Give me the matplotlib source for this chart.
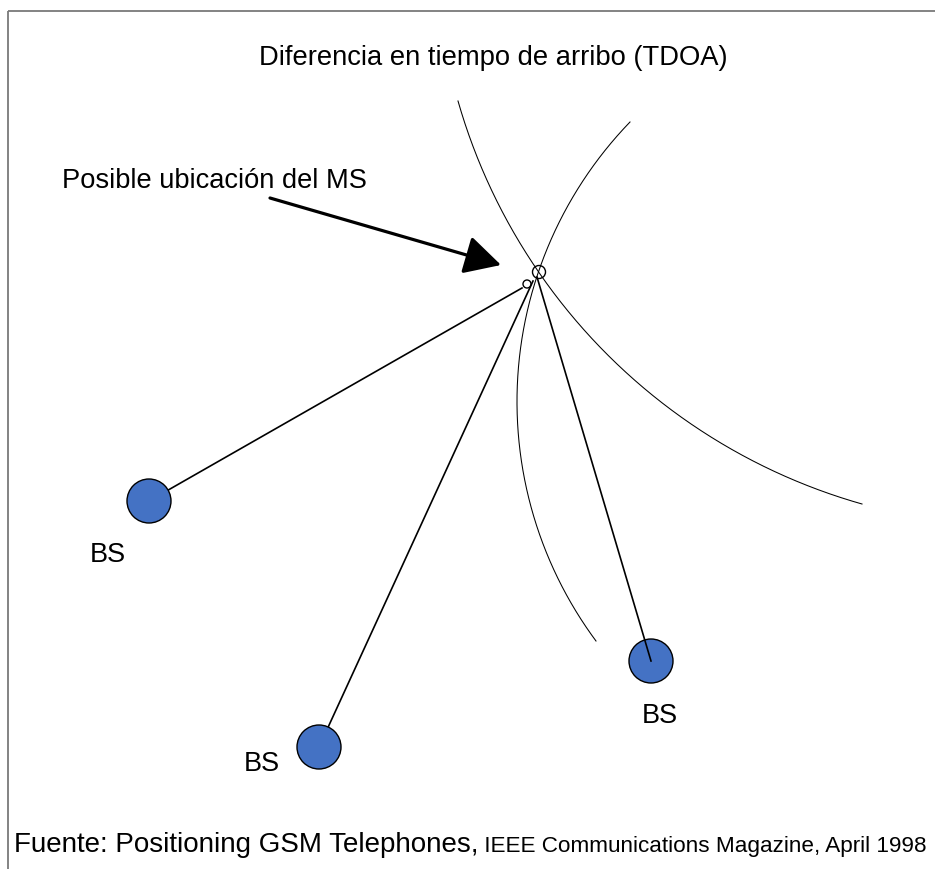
import numpy as np
import matplotlib
matplotlib.use("Agg")
import matplotlib.pyplot as plt
from matplotlib.patches import Circle, FancyArrowPatch

plt.rcParams['font.family'] = ['Liberation Sans', 'DejaVu Sans']

# ---- diagram data (pixel space of the original drawing) ----
title_text = "Diferencia en tiempo de arribo (TDOA)"
arrow_label = "Posible ubicación del MS"
source_main = "Fuente: Positioning GSM Telephones,"
source_small = " IEEE Communications Magazine, April 1998"

bs_x = [149, 319, 651]
bs_y = [502, 748, 662]
bs_labels = ["BS", "BS", "BS"]
bs_label_x = [108, 262, 660]
bs_label_y = [555, 764, 716]

ms_x = [539, 527]
ms_y = [273, 285]

# lines from each BS to the estimated location
line_end_x = [522, 533, 537]
line_end_y = [289, 282, 278]

# TDOA hyperbola-like curves: start, middle, end points
curve1_x = [458, 540, 862]
curve1_y = [102, 275, 505]
curve2_x = [630, 517, 596]
curve2_y = [123, 400, 642]

arrow_start = (270, 199)
arrow_end = (501, 266)


def circle_3pts(xs, ys):
    (x1, x2, x3), (y1, y2, y3) = xs, ys
    A = np.array([[x2 - x1, y2 - y1], [x3 - x2, y3 - y2]], float) * 2
    b = np.array([x2**2 - x1**2 + y2**2 - y1**2,
                  x3**2 - x2**2 + y3**2 - y2**2], float)
    cx, cy = np.linalg.solve(A, b)
    r = np.hypot(x1 - cx, y1 - cy)
    return cx, cy, r


def arc_points(xs, ys, n=300):
    cx, cy, r = circle_3pts(xs, ys)
    ang = np.unwrap([np.arctan2(y - cy, x - cx) for x, y in zip(xs, ys)])
    t = np.linspace(ang[0], ang[2], n)
    return cx + r * np.cos(t), cy + r * np.sin(t)


W, H = 935, 870
fig = plt.figure(figsize=(W / 100, H / 100), dpi=100)
ax = fig.add_axes([0, 0, 1, 1])
ax.set_xlim(0, W)
ax.set_ylim(H, 0)
ax.axis('off')

# frame (top and left edges)
ax.plot([8, W], [12, 12], color='#7a7a7a', lw=1.3, solid_capstyle='butt')
ax.plot([8, 8], [12, H], color='#7a7a7a', lw=1.3, solid_capstyle='butt')

# curves
for cxs, cys in [(curve1_x, curve1_y), (curve2_x, curve2_y)]:
    px, py = arc_points(cxs, cys)
    ax.plot(px, py, color='black', lw=0.75, zorder=2)

# lines BS -> MS  (first two drawn under the circles, third on top)
zs = [2, 2, 5]
for i in range(3):
    ax.plot([bs_x[i], line_end_x[i]], [bs_y[i], line_end_y[i]],
            color='black', lw=1.2, zorder=zs[i])

# base stations
for i in range(3):
    ax.add_patch(Circle((bs_x[i], bs_y[i]), 22, facecolor='#4472C4',
                        edgecolor='black', lw=1.0, zorder=4))
    ax.text(bs_label_x[i], bs_label_y[i], bs_labels[i], fontsize=19.5,
            ha='center', va='center', color='black')

# MS possible-location markers
ax.add_patch(Circle((ms_x[0], ms_y[0]), 6.5, facecolor='none',
                    edgecolor='black', lw=1.0, zorder=6))
ax.add_patch(Circle((ms_x[1], ms_y[1]), 4, facecolor='none',
                    edgecolor='black', lw=1.0, zorder=6))

# arrow
ax.add_patch(FancyArrowPatch(arrow_start, arrow_end,
                             arrowstyle='-|>,head_length=1.6,head_width=0.85',
                             mutation_scale=14, lw=2.3, color='black',
                             shrinkA=0, shrinkB=0, zorder=6))

# texts
ax.text(493, 58, title_text, fontsize=19.7, ha='center', va='center')
ax.text(62, 181, arrow_label, fontsize=19.6, ha='left', va='center')

t1 = ax.text(14, 852, source_main, fontsize=20, ha='left', va='baseline')
fig.canvas.draw()
bb = t1.get_window_extent(fig.canvas.get_renderer())
x_end = ax.transData.inverted().transform((bb.x1, bb.y0))[0]
ax.text(x_end, 852, source_small, fontsize=16.2, ha='left', va='baseline')

fig.savefig("out.png", dpi=100)
